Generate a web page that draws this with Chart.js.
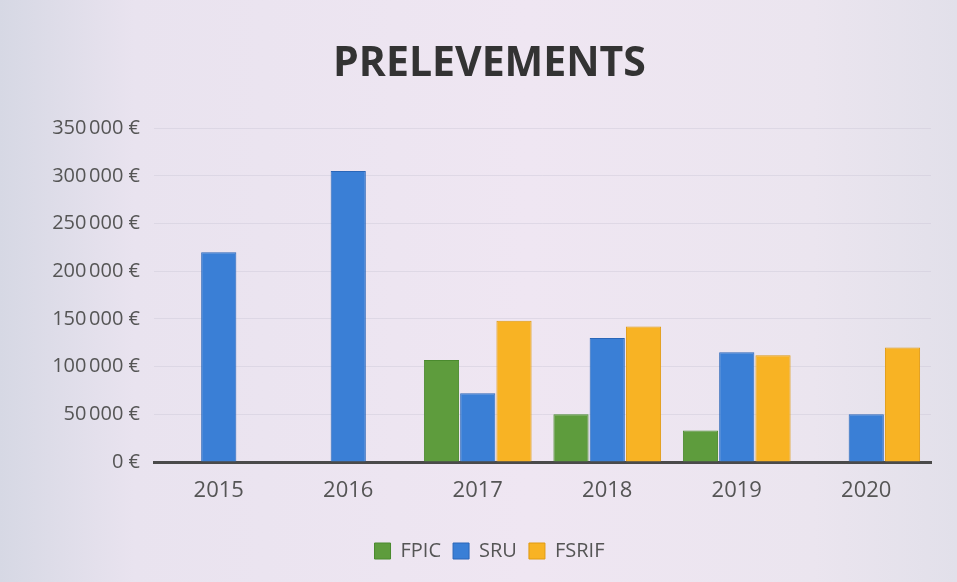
<!DOCTYPE html>
<html><head><meta charset="utf-8">
<script src="https://cdn.jsdelivr.net/npm/chart.js@4/dist/chart.umd.min.js"></script>
<style>
html,body{margin:0;padding:0;}
body{width:957px;height:582px;background:linear-gradient(90deg,#d6d8e4 0%,#e9e3ef 14%,#efe6f2 55%,#ebe5ef 85%,#e2e0ea 100%);overflow:hidden;}
#wrap{position:absolute;left:0;top:0;width:957px;height:582px;}
</style></head><body>
<div id="wrap"><canvas id="c" width="957" height="582"></canvas></div>
<script>
const categories = ["2015","2016","2017","2018","2019","2020"];
const fpic  = [0, 0, 107000, 50000, 33000, 0];
const sru   = [220000, 305000, 72000, 130000, 115000, 50000];
const fsrif = [0, 0, 148000, 142000, 112000, 120000];
const yTicks = [0,50000,100000,150000,200000,250000,300000,350000];

function fmt(v){ return v===0 ? "0 €" : String(v).replace(/\B(?=(\d{3})+(?!\d))/g,"\u202F") + " €"; }

new Chart(document.getElementById('c'),{
  type:'bar',
  data:{labels:categories,datasets:[
    {label:'FPIC',data:fpic,backgroundColor:'#5e9c3d',borderColor:'#4a8a2e',borderWidth:1},
    {label:'SRU',data:sru,backgroundColor:'#3a7fd6',borderColor:'#2a66b8',borderWidth:1},
    {label:'FSRIF',data:fsrif,backgroundColor:'#f8b324',borderColor:'#e09a10',borderWidth:1}
  ]},
  options:{
    responsive:false,animation:false,
    layout:{padding:{left:48,right:26,top:10,bottom:11}},
    categoryPercentage:0.84,barPercentage:0.97,
    plugins:{
      title:{display:true,text:'PRELEVEMENTS',color:'#333',font:{family:'Open Sans',size:41,weight:'bold'},padding:{top:30,bottom:39}},
      legend:{position:'bottom',labels:{color:'#555',font:{family:'Open Sans',size:20},boxWidth:16,boxHeight:16,padding:12}},
      tooltip:{enabled:false}
    },
    scales:{
      x:{grid:{display:false,drawTicks:false},border:{color:'#4a4a4a',width:3},
        ticks:{color:'#555',font:{family:'Open Sans',size:22},padding:16},
        afterFit:(s)=>{s.height=67;}},
      y:{min:0,max:350000,afterBuildTicks:(a)=>{a.ticks=yTicks.map(v=>({value:v}));},
        grid:{color:'rgba(205,200,215,0.45)',drawTicks:false},border:{display:false},
        ticks:{color:'#555',font:{family:'Open Sans',size:20},padding:14,callback:(v)=>fmt(v)},
        afterFit:(s)=>{s.width=106;}}
    }
  }
});
</script></body></html>
